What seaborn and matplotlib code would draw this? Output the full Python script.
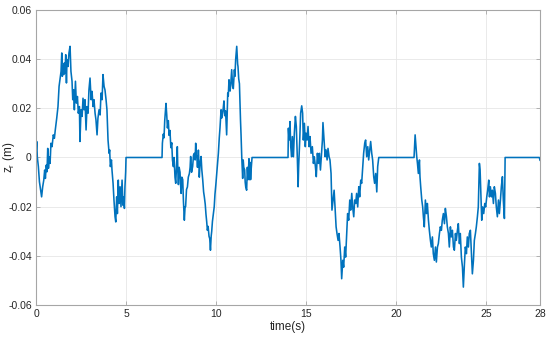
import matplotlib
matplotlib.use("Agg")
import matplotlib.pyplot as plt
import seaborn as sns
import pandas as pd

# (time, z_r) points, one list per excited stretch
seg1 = [(0.00, 0.0017), (0.04, 0.0065), (0.07, 0.0003), (0.13, -0.0037), (0.19, -0.0099),
        (0.26, -0.0133), (0.31, -0.0160), (0.37, -0.0119), (0.43, -0.0092), (0.48, -0.0051),
        (0.52, -0.0085), (0.57, -0.0031), (0.61, -0.0058), (0.65, 0.0037), (0.69, -0.0044),
        (0.74, 0.0003), (0.78, -0.0024), (0.83, 0.0058), (0.89, 0.0044), (0.96, 0.0092),
        (1.02, 0.0078), (1.07, 0.0112), (1.15, 0.0160), (1.22, 0.0207), (1.28, 0.0289),
        (1.33, 0.0316), (1.39, 0.0350), (1.43, 0.0425), (1.46, 0.0330), (1.50, 0.0370),
        (1.54, 0.0337), (1.57, 0.0384), (1.61, 0.0343), (1.65, 0.0418), (1.69, 0.0303),
        (1.72, 0.0398), (1.78, 0.0370), (1.83, 0.0425), (1.89, 0.0452), (1.94, 0.0350),
        (2.00, 0.0310), (2.04, 0.0235), (2.09, 0.0275), (2.13, 0.0194), (2.19, 0.0310),
        (2.24, 0.0221), (2.30, 0.0248), (2.35, 0.0180), (2.41, 0.0207), (2.44, 0.0065),
        (2.50, 0.0194), (2.56, 0.0167), (2.61, 0.0241), (2.67, 0.0194), (2.72, 0.0235),
        (2.78, 0.0112), (2.83, 0.0207), (2.89, 0.0180), (2.94, 0.0275), (3.00, 0.0323),
        (3.06, 0.0235), (3.11, 0.0269), (3.17, 0.0207), (3.22, 0.0235), (3.28, 0.0180),
        (3.33, 0.0153), (3.39, 0.0092), (3.44, 0.0160), (3.50, 0.0194), (3.56, 0.0173),
        (3.61, 0.0262), (3.67, 0.0235), (3.72, 0.0337), (3.78, 0.0289), (3.83, 0.0275),
        (3.89, 0.0235), (3.94, 0.0194), (4.00, 0.0071), (4.06, 0.0017), (4.09, 0.0031),
        (4.13, -0.0037), (4.19, -0.0010), (4.22, -0.0051), (4.28, -0.0105), (4.33, -0.0173),
        (4.39, -0.0241), (4.43, -0.0262), (4.48, -0.0160), (4.52, -0.0228), (4.57, -0.0092),
        (4.61, -0.0187), (4.67, -0.0119), (4.72, -0.0200), (4.78, -0.0092), (4.83, -0.0194),
        (4.87, -0.0160), (4.91, -0.0207), (4.94, -0.0119), (4.98, -0.0058), (5.00, 0.0)]

seg2 = [(7.00, 0.0), (7.02, 0.0058), (7.07, 0.0095), (7.11, 0.0080), (7.15, 0.0150),
        (7.19, 0.0190), (7.22, 0.0220), (7.26, 0.0175), (7.30, 0.0120), (7.35, 0.0150),
        (7.39, 0.0090), (7.44, 0.0110), (7.49, 0.0040), (7.54, 0.0060), (7.58, -0.0010),
        (7.63, -0.0037), (7.67, 0.0000), (7.72, -0.0080), (7.76, -0.0105), (7.81, -0.0030),
        (7.85, 0.0044), (7.88, -0.0060), (7.91, -0.0110), (7.95, -0.0040), (8.00, -0.0060),
        (8.03, -0.0110), (8.06, -0.0146), (8.10, -0.0080), (8.15, -0.0090), (8.19, -0.0180),
        (8.24, -0.0255), (8.28, -0.0200), (8.31, -0.0200), (8.36, -0.0130), (8.41, -0.0120),
        (8.46, -0.0080), (8.52, -0.0065), (8.56, -0.0040), (8.59, 0.0004), (8.64, -0.0060),
        (8.70, -0.0037), (8.75, 0.0010), (8.80, 0.0017), (8.84, -0.0010), (8.87, 0.0058),
        (8.90, 0.0010), (8.93, 0.0004), (8.97, -0.0040), (9.02, 0.0030), (9.05, -0.0020),
        (9.07, -0.0080), (9.11, -0.0030), (9.17, 0.0004), (9.21, -0.0050), (9.26, -0.0090),
        (9.31, -0.0140), (9.35, -0.0160), (9.40, -0.0190), (9.44, -0.0230), (9.48, -0.0260),
        (9.52, -0.0296), (9.56, -0.0280), (9.61, -0.0320), (9.65, -0.0330), (9.69, -0.0377),
        (9.73, -0.0320), (9.76, -0.0300), (9.80, -0.0260), (9.85, -0.0230), (9.90, -0.0200),
        (9.94, -0.0150), (9.99, -0.0110), (10.04, -0.0065), (10.08, -0.0030), (10.13, 0.0017),
        (10.18, 0.0080), (10.22, 0.0120), (10.28, 0.0194), (10.31, 0.0160), (10.36, 0.0180),
        (10.40, 0.0200), (10.44, 0.0230), (10.48, 0.0170), (10.53, 0.0190), (10.59, 0.0092),
        (10.62, 0.0180), (10.65, 0.0262), (10.68, 0.0250), (10.72, 0.0316), (10.78, 0.0270),
        (10.82, 0.0300), (10.87, 0.0357), (10.92, 0.0290), (10.96, 0.0280), (11.02, 0.0357),
        (11.05, 0.0330), (11.09, 0.0398), (11.15, 0.0452), (11.20, 0.0380), (11.22, 0.0370),
        (11.26, 0.0320), (11.30, 0.0300), (11.33, 0.0220), (11.36, 0.0150), (11.39, 0.0092),
        (11.43, 0.0000), (11.46, -0.0050), (11.48, -0.0085), (11.51, -0.0010), (11.54, -0.0040),
        (11.59, -0.0050), (11.62, -0.0100), (11.65, -0.0120), (11.70, -0.0133), (11.74, -0.0040),
        (11.78, -0.0090), (11.83, -0.0005), (11.86, -0.0090), (11.89, -0.0020), (11.92, -0.0090),
        (11.95, -0.0050), (12.00, 0.0)]

seg3 = [(14.00, 0.0), (14.02, 0.0119), (14.06, 0.0071), (14.11, 0.0146), (14.15, 0.0044),
        (14.20, 0.0003), (14.24, 0.0085), (14.30, 0.0003), (14.35, 0.0099), (14.41, 0.0167),
        (14.46, 0.0126), (14.52, -0.0010), (14.56, -0.0119), (14.59, -0.0037), (14.65, 0.0071),
        (14.70, 0.0180), (14.76, 0.0210), (14.81, 0.0180), (14.85, 0.0071), (14.91, 0.0139),
        (14.96, 0.0044), (15.00, 0.0099), (15.06, 0.0071), (15.11, 0.0126), (15.17, 0.0044),
        (15.22, 0.0085), (15.28, 0.0017), (15.35, 0.0044), (15.41, -0.0024), (15.46, 0.0003),
        (15.52, -0.0037), (15.57, -0.0078), (15.63, 0.0017), (15.69, -0.0024), (15.74, 0.0017),
        (15.80, -0.0051), (15.85, 0.0003), (15.91, 0.0071), (15.94, 0.0142), (16.00, 0.0071),
        (16.06, 0.0003), (16.11, 0.0031), (16.17, -0.0010), (16.22, 0.0037), (16.28, 0.0003),
        (16.33, -0.0010), (16.39, -0.0065), (16.44, -0.0214), (16.50, -0.0173), (16.56, -0.0133),
        (16.61, -0.0201), (16.67, -0.0282), (16.72, -0.0309), (16.78, -0.0337), (16.83, -0.0309),
        (16.89, -0.0364), (16.94, -0.0418), (16.98, -0.0493), (17.04, -0.0418), (17.09, -0.0446),
        (17.15, -0.0364), (17.20, -0.0405), (17.26, -0.0309), (17.31, -0.0228), (17.37, -0.0255),
        (17.43, -0.0173), (17.48, -0.0214), (17.54, -0.0146), (17.59, -0.0201), (17.65, -0.0241),
        (17.70, -0.0173), (17.76, -0.0187), (17.81, -0.0146), (17.87, -0.0201), (17.93, -0.0119),
        (17.98, -0.0160), (18.04, -0.0092), (18.09, -0.0105), (18.15, -0.0037), (18.20, 0.0017),
        (18.26, 0.0058), (18.31, 0.0071), (18.37, 0.0003), (18.43, 0.0044), (18.48, -0.0010),
        (18.54, 0.0031), (18.59, 0.0065), (18.65, 0.0017), (18.70, -0.0010), (18.76, -0.0078),
        (18.81, -0.0105), (18.87, -0.0065), (18.93, -0.0140), (18.98, -0.0037), (19.04, 0.0)]

seg4 = [(21.00, 0.0), (21.06, 0.0092), (21.11, 0.0044), (21.15, 0.0003), (21.19, -0.0024),
        (21.24, -0.0065), (21.30, -0.0010), (21.33, -0.0078), (21.37, -0.0119), (21.43, -0.0173),
        (21.48, -0.0201), (21.52, -0.0241), (21.57, -0.0282), (21.63, -0.0173), (21.69, -0.0228),
        (21.74, -0.0187), (21.80, -0.0255), (21.85, -0.0296), (21.91, -0.0337), (21.96, -0.0364),
        (22.02, -0.0323), (22.07, -0.0391), (22.13, -0.0418), (22.19, -0.0364), (22.24, -0.0425),
        (22.30, -0.0364), (22.35, -0.0350), (22.41, -0.0309), (22.46, -0.0282), (22.52, -0.0296),
        (22.57, -0.0255), (22.63, -0.0228), (22.69, -0.0269), (22.74, -0.0207), (22.80, -0.0241),
        (22.85, -0.0282), (22.91, -0.0309), (22.96, -0.0364), (23.02, -0.0282), (23.07, -0.0323),
        (23.13, -0.0296), (23.19, -0.0364), (23.24, -0.0377), (23.30, -0.0309), (23.35, -0.0337),
        (23.41, -0.0296), (23.46, -0.0269), (23.52, -0.0350), (23.57, -0.0309), (23.63, -0.0405),
        (23.69, -0.0446), (23.74, -0.0527), (23.80, -0.0432), (23.85, -0.0364), (23.91, -0.0391),
        (23.96, -0.0323), (24.02, -0.0364), (24.07, -0.0309), (24.13, -0.0296), (24.19, -0.0391),
        (24.24, -0.0473), (24.30, -0.0418), (24.35, -0.0337), (24.41, -0.0309), (24.46, -0.0282),
        (24.52, -0.0241), (24.57, -0.0201), (24.63, -0.0024), (24.67, -0.0051), (24.70, -0.0119),
        (24.76, -0.0255), (24.81, -0.0201), (24.87, -0.0228), (24.93, -0.0187), (24.98, -0.0201),
        (25.04, -0.0160), (25.09, -0.0133), (25.15, -0.0092), (25.19, -0.0160), (25.24, -0.0119),
        (25.30, -0.0160), (25.35, -0.0133), (25.41, -0.0187), (25.46, -0.0119), (25.52, -0.0146),
        (25.57, -0.0201), (25.63, -0.0241), (25.69, -0.0173), (25.74, -0.0228), (25.80, -0.0173),
        (25.85, -0.0119), (25.91, -0.0078), (25.96, -0.0173), (26.02, -0.0248), (26.06, 0.0)]

tail = [(27.96, 0.0), (28.00, -0.0012)]

xticks = [0, 5, 10, 15, 20, 25, 28]
yticks = [-0.06, -0.04, -0.02, 0, 0.02, 0.04, 0.06]
ytick_labels = ["-0.06", "-0.04", "-0.02", "0", "0.02", "0.04", "0.06"]

df = pd.DataFrame(seg1 + seg2 + seg3 + seg4 + tail, columns=["t", "z"])

sns.set_style("white")
plt.rcParams["font.family"] = ["Liberation Sans", "DejaVu Sans"]

fig = plt.figure(figsize=(5.5, 3.42), dpi=100)
ax = fig.add_axes([0.0655, 0.108, 0.9164, 0.863])

sns.lineplot(data=df, x="t", y="z", estimator=None, sort=False,
             color="#0072BD", linewidth=1.15, ax=ax)

ax.set_xlim(0, 28)
ax.set_ylim(-0.06, 0.06)
ax.set_xticks(xticks)
ax.set_xticklabels([str(v) for v in xticks])
ax.set_yticks(yticks)
ax.set_yticklabels(ytick_labels)

ax.grid(True, color="#e6e6e6", linewidth=0.6)
ax.set_axisbelow(True)
for s in ax.spines.values():
    s.set_color("#a6a6a6")
    s.set_linewidth(0.8)
ax.tick_params(direction="in", length=3, width=0.6, color="#a6a6a6",
               labelsize=7.5, labelcolor="#262626", top=True, right=True,
               bottom=True, left=True, pad=3)

ax.set_xlabel("time(s)", fontsize=8.5, color="#262626", labelpad=1)
ax.set_ylabel(r"z$_\mathregular{r}$ (m)", fontsize=8.5, color="#262626")
ax.yaxis.set_label_coords(-0.038, 0.5)

fig.savefig("out.png", dpi=100)
